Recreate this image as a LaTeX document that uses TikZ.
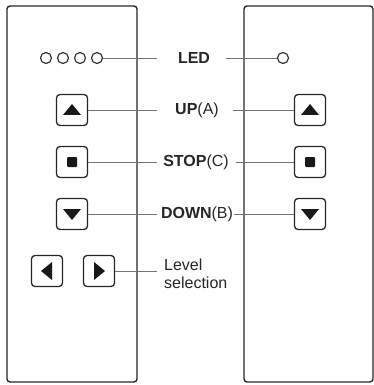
\documentclass[tikz,border=0pt]{standalone}
\usepackage{fontspec}
\setmainfont{Liberation Sans}
\begin{document}
\begin{tikzpicture}[x=1pt,y=-1pt,
  panel/.style={draw=black!85,line width=1.4pt,rounded corners=3pt},
  btn/.style={draw=black!85,line width=1.3pt,rounded corners=3.5pt,minimum size=31pt,inner sep=0pt},
  led/.style={circle,draw=black!80,line width=1.2pt,minimum size=11pt,inner sep=0pt},
  conn/.style={draw=black!55,line width=0.9pt},
  lbl/.style={text=black!85,font=\fontsize{16}{18}\selectfont,inner sep=0pt},
  glyph/.style={fill=black!90,draw=none}]
\useasboundingbox (0,0) rectangle (374,385);
% panels
\draw[panel] (7,6) rectangle (137,382);
\draw[panel] (244,6) rectangle (373,382);
% LED row
\node[led] (l1) at (46,58) {};
\node[led] (l2) at (63,58) {};
\node[led] (l3) at (80,58) {};
\node[led] (l4) at (97,58) {};
\node[led] (lr) at (283,58) {};
\node[lbl,font=\fontsize{16}{18}\selectfont\bfseries] (tLED) at (194,58) {LED};
\coordinate (cLEDa) at (157,58);
\coordinate (cLEDb) at (226,58);
\draw[conn] (l4.east) -- (cLEDa);
\draw[conn] (cLEDb) -- (lr.west);
% UP
\node[btn] (upL) at (72,110) {};
\node[btn] (upR) at (310,110) {};
\foreach \b in {upL,upR}
  \fill[glyph,shift={(\b.center)}] (-9,5) -- (9,5) -- (0,-6) -- cycle;
\node[lbl] (tUP) at (197,110) {\textbf{UP}(A)};
\coordinate (cUPa) at (157,110);
\coordinate (cUPb) at (233,110);
\draw[conn] (upL.east) -- (cUPa);
\draw[conn] (cUPb) -- (upR.west);
% STOP
\node[btn] (stL) at (72,162) {};
\node[btn] (stR) at (310,162) {};
\foreach \b in {stL,stR}
  \fill[glyph,shift={(\b.center)},rounded corners=1pt] (-5,-5) rectangle (5,5);
\node[lbl] (tST) at (196,162) {\textbf{STOP}(C)};
\coordinate (cSTa) at (157,162);
\coordinate (cSTb) at (236,162);
\draw[conn] (stL.east) -- (cSTa);
\draw[conn] (cSTb) -- (stR.west);
% DOWN
\node[btn] (dnL) at (72,214) {};
\node[btn] (dnR) at (310,214) {};
\foreach \b in {dnL,dnR}
  \fill[glyph,shift={(\b.center)}] (-9,-5) -- (9,-5) -- (0,6) -- cycle;
\node[lbl] (tDN) at (197,214) {\textbf{DOWN}(B)};
\coordinate (cDNa) at (157,214);
\coordinate (cDNb) at (234,214);
\draw[conn] (dnL.east) -- (cDNa);
\draw[conn] (cDNb) -- (dnR.west);
% level selection
\node[btn] (lfL) at (47,271) {};
\node[btn] (rtL) at (99,271) {};
\fill[glyph,shift={(lfL.center)}] (5,-9) -- (5,9) -- (-6,0) -- cycle;
\fill[glyph,shift={(rtL.center)}] (-5,-9) -- (-5,9) -- (6,0) -- cycle;
\node[lbl,anchor=north west,align=left,font=\fontsize{16}{18}\selectfont] (tLV) at (164,259) {Level\\selection};
\coordinate (cLVa) at (157,271);
\draw[conn] (rtL.east) -- (cLVa);
\end{tikzpicture}
\end{document}
